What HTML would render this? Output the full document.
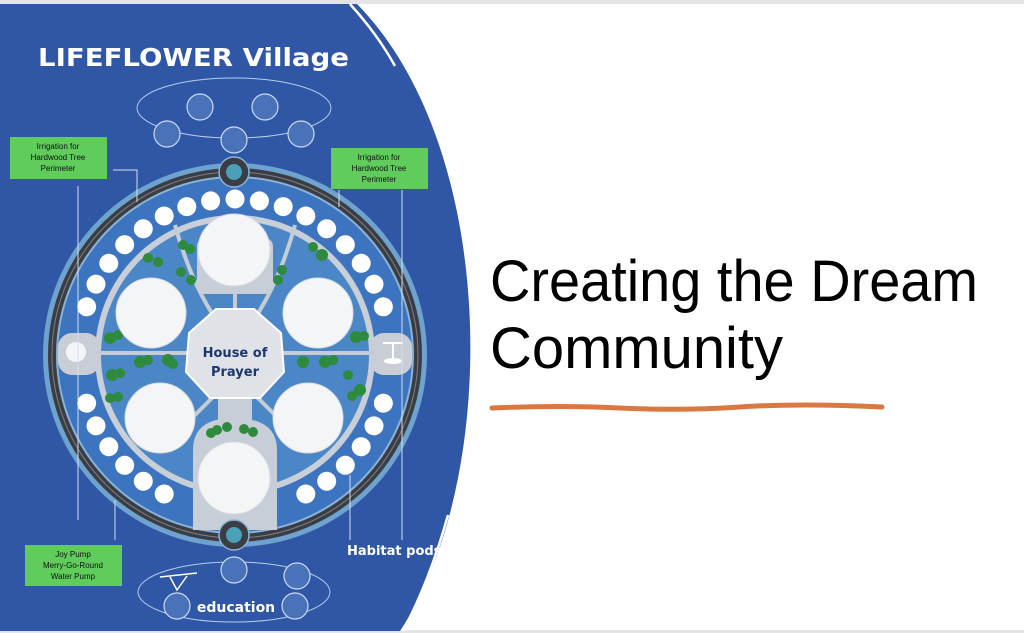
<!DOCTYPE html>
<html><head><meta charset="utf-8"><style>
html,body{margin:0;padding:0;background:#fff;}
svg{display:block}
</style></head><body>
<svg width="1024" height="633" viewBox="0 0 1024 633" xmlns="http://www.w3.org/2000/svg" font-family="Liberation Sans, DejaVu Sans, sans-serif">
<rect width="1024" height="633" fill="#fff"/>
<rect width="1024" height="4" fill="#e4e4e6"/>
<rect y="630" width="1024" height="3" fill="#e4e4e6"/>
<path d="M0,4 L357,4 C500,150 500,480 400,631 L0,631 Z" fill="#2f57a5"/>
<path d="M350,4 Q378,35 395,66" stroke="#fff" stroke-width="2.5" fill="none"/>
<path d="M403,631 Q430,580 448,515" stroke="#fff" stroke-width="2.5" fill="none"/>

<text x="38" y="66" font-size="25" font-weight="bold" fill="#fff" font-family="DejaVu Sans, sans-serif" textLength="311" lengthAdjust="spacingAndGlyphs">LIFEFLOWER  Village</text>

<ellipse cx="234" cy="108" rx="97" ry="30" fill="none" stroke="#b8cdee" stroke-width="1"/>
<g fill="#4a72b8" stroke="#c9dbf5" stroke-width="1.2">
<circle cx="200" cy="107" r="13"/><circle cx="265" cy="107" r="13"/>
<circle cx="167" cy="134" r="13"/><circle cx="234" cy="140" r="13"/><circle cx="301" cy="134" r="13"/>
</g>
<ellipse cx="234" cy="592" rx="96" ry="30" fill="none" stroke="#b8cdee" stroke-width="1"/>
<g fill="#4a72b8" stroke="#c9dbf5" stroke-width="1.2">
<circle cx="234" cy="570" r="13"/><circle cx="297" cy="576" r="13"/>
<circle cx="177" cy="606" r="13"/><circle cx="295" cy="606" r="13"/>
</g>
<path d="M160,577 L197,573 M170,577 L177,590 L187,576" stroke="#fff" stroke-width="1.5" fill="none"/>
<text x="236" y="612" font-size="14" font-weight="bold" fill="#fff" text-anchor="middle" font-family="DejaVu Sans, sans-serif">education</text>
<text x="347" y="555" font-size="13" font-weight="bold" fill="#fff" font-family="DejaVu Sans, sans-serif">Habitat pods</text>

<circle cx="235" cy="355" r="192" fill="#6fa3cf"/>
<circle cx="235" cy="355" r="187" fill="#3a3d44"/>
<circle cx="235" cy="355" r="183" fill="none" stroke="#7d7f86" stroke-width="1"/>
<circle cx="235" cy="355" r="179" fill="#8ab3d8"/>
<circle cx="235" cy="355" r="177" fill="#3d74c0"/>
<circle cx="235" cy="355" r="140" fill="#c8cfd8"/>
<circle cx="235" cy="355" r="134" fill="#4b87c6"/>
<g fill="#fff">
<g id="p"><circle cx="235" cy="199" r="9.5"/></g>
<use href="#p" transform="rotate(9 235 355)"/><use href="#p" transform="rotate(18 235 355)"/><use href="#p" transform="rotate(27 235 355)"/><use href="#p" transform="rotate(36 235 355)"/><use href="#p" transform="rotate(45 235 355)"/><use href="#p" transform="rotate(54 235 355)"/><use href="#p" transform="rotate(63 235 355)"/><use href="#p" transform="rotate(72 235 355)"/>
<use href="#p" transform="rotate(108 235 355)"/><use href="#p" transform="rotate(117 235 355)"/><use href="#p" transform="rotate(126 235 355)"/><use href="#p" transform="rotate(135 235 355)"/><use href="#p" transform="rotate(144 235 355)"/><use href="#p" transform="rotate(153 235 355)"/>
<use href="#p" transform="rotate(207 235 355)"/><use href="#p" transform="rotate(216 235 355)"/><use href="#p" transform="rotate(225 235 355)"/><use href="#p" transform="rotate(234 235 355)"/><use href="#p" transform="rotate(243 235 355)"/><use href="#p" transform="rotate(252 235 355)"/>
<use href="#p" transform="rotate(288 235 355)"/><use href="#p" transform="rotate(297 235 355)"/><use href="#p" transform="rotate(306 235 355)"/><use href="#p" transform="rotate(315 235 355)"/><use href="#p" transform="rotate(324 235 355)"/><use href="#p" transform="rotate(333 235 355)"/><use href="#p" transform="rotate(342 235 355)"/><use href="#p" transform="rotate(351 235 355)"/>
</g>
<rect x="58" y="333" width="42" height="42" rx="14" fill="#c9ced6"/>
<rect x="370" y="333" width="42" height="42" rx="14" fill="#c9ced6"/>
<circle cx="76" cy="352" r="10" fill="#fff" opacity="0.8"/>
<path d="M383,343 L403,343 M393,343 L393,360" stroke="#fff" stroke-width="2"/>
<ellipse cx="393" cy="361" rx="9" ry="3" fill="#fff"/>
<g stroke="#c5ccd6" stroke-width="4" fill="none">
<line x1="95" y1="353" x2="375" y2="353"/>
<line x1="235" y1="215" x2="235" y2="310"/>
<path d="M175,225 Q190,280 215,318"/>
<path d="M295,225 Q280,280 255,318"/>
<path d="M215,395 L170,440"/>
<path d="M255,395 L300,440"/>
</g>
<rect x="197" y="238" width="76" height="56" rx="8" fill="#c8ced7"/>
<path d="M193,530 L193,450 Q193,418 234,418 Q277,418 277,450 L277,530 Z" fill="#c8ced7"/>
<rect x="218" y="395" width="34" height="30" fill="#c8ced7"/>
<g fill="#2e8a3c">
<circle cx="183" cy="245" r="5"/><circle cx="190" cy="249" r="5"/>
<circle cx="148" cy="258" r="5"/><circle cx="158" cy="262" r="5"/>
<circle cx="181" cy="272" r="5"/><circle cx="191" cy="280" r="5"/>
<circle cx="313" cy="247" r="5"/><circle cx="322" cy="255" r="6"/>
<circle cx="282" cy="270" r="5"/><circle cx="278" cy="280" r="5"/>
<circle cx="110" cy="338" r="6"/><circle cx="118" cy="335" r="5"/>
<circle cx="140" cy="362" r="6"/><circle cx="148" cy="360" r="5"/>
<circle cx="168" cy="360" r="6"/><circle cx="173" cy="364" r="5"/>
<circle cx="112" cy="375" r="6"/><circle cx="120" cy="373" r="5"/>
<circle cx="110" cy="398" r="5"/><circle cx="118" cy="397" r="5"/>
<circle cx="303" cy="362" r="6"/><circle cx="325" cy="362" r="6"/><circle cx="333" cy="360" r="5"/>
<circle cx="356" cy="337" r="6"/><circle cx="364" cy="336" r="5"/>
<circle cx="348" cy="375" r="5"/><circle cx="360" cy="390" r="6"/><circle cx="352" cy="396" r="5"/>
<circle cx="211" cy="433" r="5"/><circle cx="217" cy="430" r="5"/><circle cx="227" cy="427" r="5"/><circle cx="244" cy="429" r="5"/><circle cx="253" cy="432" r="5"/>
</g>
<g fill="#f4f5f7" stroke="#d6dbe2" stroke-width="1">
<circle cx="234" cy="250" r="36"/>
<circle cx="151" cy="313" r="35"/>
<circle cx="318" cy="313" r="35"/>
<circle cx="160" cy="418" r="35"/>
<circle cx="308" cy="418" r="35"/>
<circle cx="234" cy="478" r="36"/>
</g>
<polygon points="216,309 254,309 281,333 284,372 260,398 210,398 186,372 189,333" fill="#dfe3e8" stroke="#fff" stroke-width="2"/>
<text x="235" y="357" font-size="13" font-weight="bold" fill="#1f3570" text-anchor="middle" font-family="DejaVu Sans, sans-serif">House of</text>
<text x="235" y="376" font-size="13" font-weight="bold" fill="#1f3570" text-anchor="middle" font-family="DejaVu Sans, sans-serif">Prayer</text>
<circle cx="234" cy="172" r="15" fill="#3a3d44" stroke="#8ab3d8" stroke-width="1.5"/>
<circle cx="234" cy="172" r="8" fill="#4aa0b8"/>
<circle cx="234" cy="535" r="15" fill="#3a3d44" stroke="#8ab3d8" stroke-width="1.5"/>
<circle cx="234" cy="535" r="8" fill="#4aa0b8"/>

<g stroke="#d5deea" stroke-width="1" fill="none">
<path d="M78,186 L78,520"/>
<path d="M113,170 L137,170 L137,202"/>
<path d="M115,500 L115,540"/>
<path d="M339,190 L339,207"/>
<path d="M402,190 L402,540"/>
<path d="M350,475 L350,540"/>
</g>
<g font-size="8" fill="#111" text-anchor="middle">
<rect x="10" y="137" width="97" height="42" fill="#5fcc5c"/>
<text x="58" y="149">Irrigation for</text><text x="58" y="160">Hardwood Tree</text><text x="58" y="171">Perimeter</text>
<rect x="331" y="148" width="97" height="41" fill="#5fcc5c"/>
<text x="379" y="160">Irrigation for</text><text x="379" y="171">Hardwood Tree</text><text x="379" y="182">Perimeter</text>
<rect x="25" y="545" width="97" height="41" fill="#5fcc5c"/>
<text x="73" y="557">Joy Pump</text><text x="73" y="568">Merry-Go-Round</text><text x="73" y="579">Water Pump</text>
</g>

<text x="490" y="301" font-size="58" fill="#000" textLength="488" lengthAdjust="spacingAndGlyphs">Creating the Dream</text>
<text x="490" y="368" font-size="58" fill="#000" textLength="293" lengthAdjust="spacingAndGlyphs">Community</text>
<path d="M492,408 Q560,405 620,408 T740,407 T882,407" stroke="#d97840" stroke-width="5" stroke-linecap="round" fill="none"/>
</svg>
</body></html>
